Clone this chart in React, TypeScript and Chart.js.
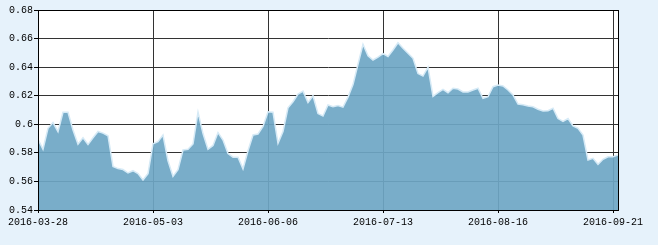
import React, { useEffect, useRef } from "react";
import { Chart, registerables } from "chart.js";

Chart.register(...registerables);

// Tick labels (dates shown under the x axis, one every 23 data points)
const tickDates = ["2016-03-28", "2016-05-03", "2016-06-06", "2016-07-13", "2016-08-16", "2016-09-21"];
const pointsPerTick = 23;

// Y axis range
const yMin = 0.54;
const yMax = 0.68;
const yStep = 0.02;

// Series values (daily)
const values = [
  0.5895, 0.5825, 0.5972, 0.6012, 0.5948, 0.6084, 0.6084, 0.596, 0.586, 0.5905,
  0.5858, 0.5906, 0.595, 0.5938, 0.592, 0.5705, 0.569, 0.5683, 0.5659, 0.5675,
  0.5655, 0.561, 0.5655, 0.5864, 0.5878, 0.5925, 0.5745, 0.5635, 0.5683, 0.582,
  0.5825, 0.5862, 0.6085, 0.5935, 0.5825, 0.5852, 0.5942, 0.589, 0.5795, 0.577,
  0.577, 0.5688, 0.5815, 0.5925, 0.5932, 0.5985, 0.6088, 0.6085, 0.5867, 0.595,
  0.6115, 0.6158, 0.6212, 0.6232, 0.6152, 0.62, 0.6075, 0.6058, 0.6135, 0.6123,
  0.6132, 0.612, 0.619, 0.6278, 0.642, 0.656, 0.648, 0.645, 0.647, 0.6495,
  0.6475, 0.652, 0.6571, 0.6532, 0.6497, 0.6462, 0.6355, 0.6338, 0.64, 0.6195,
  0.6221, 0.6245, 0.6221, 0.6252, 0.6247, 0.6226, 0.6226, 0.624, 0.6252, 0.6182,
  0.6193, 0.6263, 0.6275, 0.6268, 0.624, 0.6205, 0.6142, 0.6137, 0.6128, 0.6123,
  0.6105, 0.6093, 0.6095, 0.6112, 0.604, 0.602, 0.604, 0.5988, 0.5972, 0.5925,
  0.575, 0.5762, 0.572, 0.5755, 0.5773, 0.5773, 0.5785,
];

const FONT = { family: "'Liberation Mono', 'DejaVu Sans Mono', monospace", size: 10 };

const frame = {
  id: "frame",
  beforeDraw(chart: any) {
    const { ctx, chartArea: a } = chart;
    ctx.save();
    ctx.fillStyle = "#ffffff";
    ctx.fillRect(a.left, a.top, a.right - a.left, a.bottom - a.top);
    ctx.restore();
  },
  afterDraw(chart: any) {
    const { ctx, chartArea: a } = chart;
    ctx.save();
    ctx.strokeStyle = "#000000";
    ctx.lineWidth = 1;
    ctx.strokeRect(Math.round(a.left) + 0.5, Math.round(a.top) + 0.5, Math.round(a.right - a.left), Math.round(a.bottom - a.top));
    ctx.restore();
  },
};

export default function App() {
  const ref = useRef<HTMLCanvasElement>(null);

  useEffect(() => {
    document.body.style.margin = "0";
    document.body.style.background = "#e6f2fb";
    const canvas = ref.current;
    if (!canvas) return;
    const data = values.map((v, i) => ({ x: i, y: v }));
    const chart = new Chart(canvas, {
      type: "line",
      data: {
        datasets: [
          {
            data,
            fill: "start",
            backgroundColor: "rgba(110,166,196,0.92)",
            borderColor: "#d6eaf6",
            borderWidth: 1.5,
            pointRadius: 0,
            tension: 0,
          },
        ],
      },
      options: {
        animation: false,
        responsive: false,
        devicePixelRatio: 1,
        layout: { padding: { left: 0, right: 40, top: 10, bottom: 0 } },
        plugins: { legend: { display: false }, tooltip: { enabled: false } },
        scales: {
          x: {
            type: "linear",
            min: 0,
            max: values.length - 1,
            afterFit: (s: any) => {
              s.height = 35;
            },
            ticks: {
              stepSize: pointsPerTick,
              includeBounds: false,
              autoSkip: false,
              maxRotation: 0,
              padding: 3,
              color: "#000",
              font: FONT,
              callback: (v: any) => tickDates[Math.round(Number(v) / pointsPerTick)] ?? "",
            },
            grid: { color: "#333333", lineWidth: 1, tickLength: 3, tickColor: "#000" },
            border: { color: "#000", width: 1 },
          },
          y: {
            min: yMin,
            max: yMax,
            afterFit: (s: any) => {
              s.width = 38;
            },
            ticks: {
              stepSize: yStep,
              padding: 1,
              color: "#000",
              font: FONT,
              callback: (v: any) => String(Number(Number(v).toFixed(2))),
            },
            grid: { color: "#333333", lineWidth: 1, tickLength: 4, tickColor: "#000" },
            border: { color: "#000", width: 1 },
          },
        },
      },
      plugins: [frame],
    });
    return () => chart.destroy();
  }, []);

  return (
    <div style={{ width: 658, height: 245, background: "#e6f2fb" }}>
      <canvas ref={ref} width={658} height={245} style={{ display: "block" }} />
    </div>
  );
}
